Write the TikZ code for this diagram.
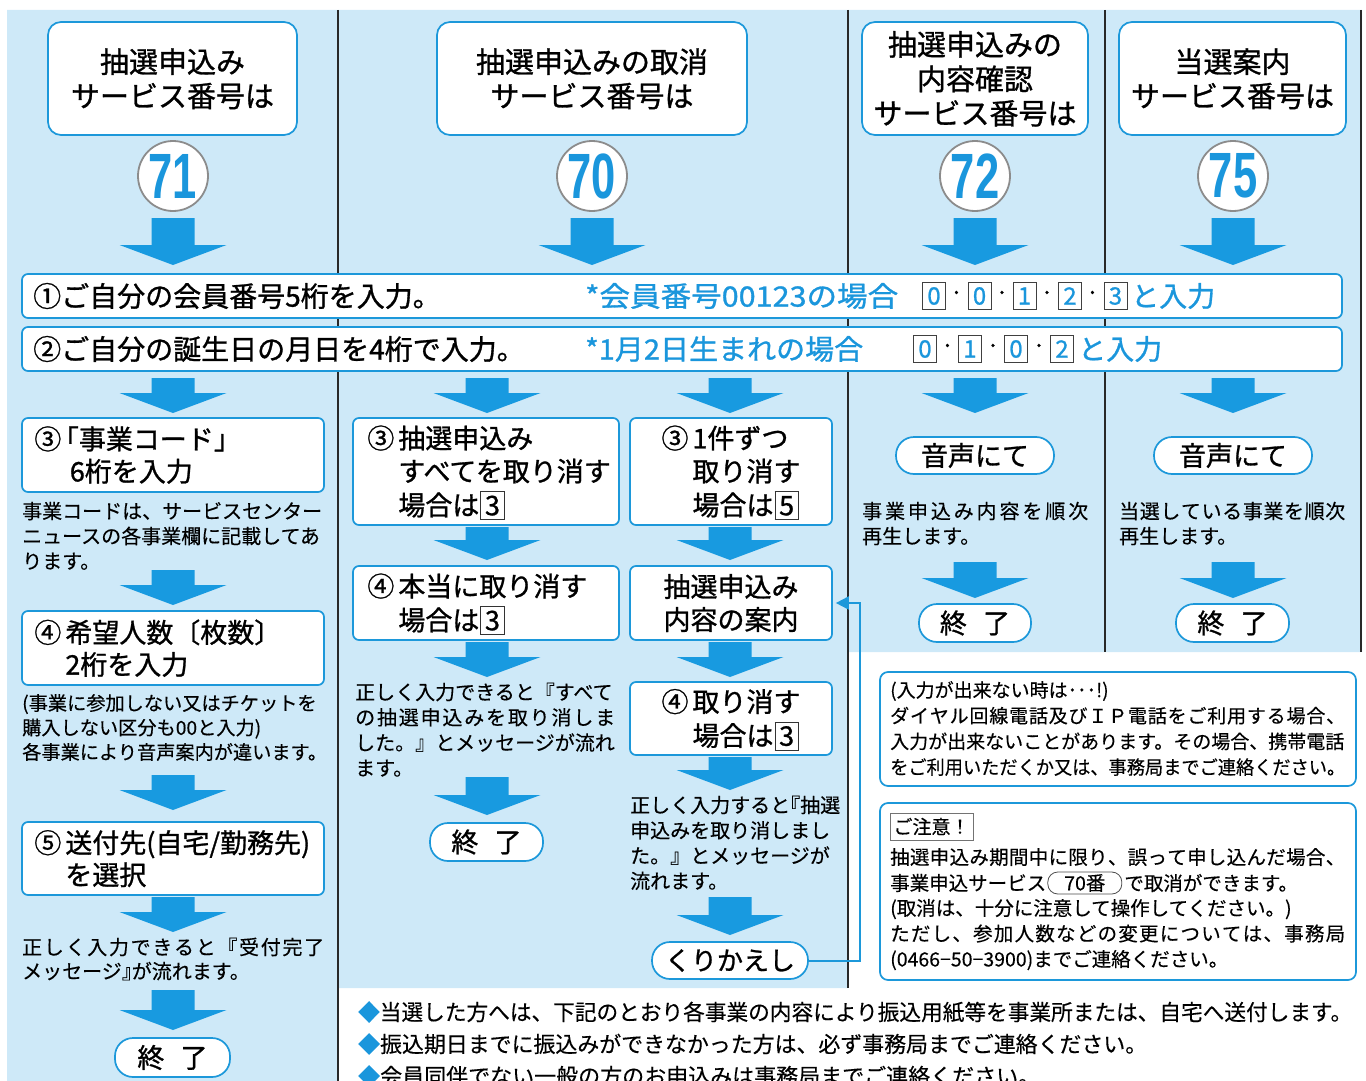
\documentclass[tikz,border=0pt]{standalone}
\usepackage{fontspec}
\usepackage{graphicx}
\setmainfont{Noto Sans CJK JP}[FakeBold=0.3]
\newfontfamily\hvy{Noto Sans CJK JP}[FakeBold=1.0]
\newfontfamily\numfont{Liberation Sans}
\usetikzlibrary{arrows.meta}
\definecolor{bg}{RGB}{206,233,248}
\definecolor{bl}{RGB}{28,152,218}
\definecolor{ar}{RGB}{24,154,224}
\definecolor{tb}{RGB}{26,150,220}
\definecolor{dv}{RGB}{40,40,40}
\newcommand{\fsz}[2]{\fontsize{#1}{#2}\selectfont}
\def\spr#1#2{\makebox[#1][s]{\sprA#2\relax}}
\def\sprA#1{#1\sprB}
\def\sprB#1{\ifx\relax#1\else\hfil#1\expandafter\sprB\fi}
\newcommand{\kb}[1]{\hspace{1pt}{\setlength{\fboxsep}{0.5pt}\setlength{\fboxrule}{1.1pt}\fcolorbox{black!80}{white}{\rule[-0.12em]{0pt}{0.95em}\makebox[0.78em]{#1}}}}
\newcommand{\hb}[1]{\makebox[0.5em][r]{#1}}
\newcommand{\hc}[1]{\makebox[0.5em][l]{#1}}
\newcommand{\myTL}[1]{\begin{tabular}[t]{@{}l@{}}#1\end{tabular}}
\newcommand{\myTC}[1]{\begin{tabular}{@{}c@{}}#1\end{tabular}}
\newcommand{\myTH}[1]{\begin{tabular}{@{}l@{\hspace{4pt}}l@{}}#1\end{tabular}}
\newcommand{\darr}[3]{\fill[ar] ({#1-21.5},#2) -- ({#1+21.5},#2) -- ({#1+21.5},{#3-20}) -- ({#1+53.5},{#3-20}) -- (#1,#3) -- ({#1-53.5},{#3-20}) -- ({#1-21.5},{#3-20}) -- cycle;}
\tikzset{
  bx/.style={draw=bl, line width=1.7pt, fill=white, rounded corners=6pt, inner sep=0pt},
  hbx/.style={bx, rounded corners=13pt},
  pill/.style={draw=bl, line width=1.7pt, fill=white, rounded corners=18pt, inner sep=0pt, font=\hvy\fsz{27}{32}},
  circ/.style={circle, draw=black!45, line width=1.8pt, fill=white, minimum size=70pt, inner sep=0pt},
  tx/.style={inner sep=0pt, text=black},
  tt/.style={inner sep=0pt, text=black, font=\hvy\fsz{27}{33}, yshift=-3.7pt},
  ht/.style={inner sep=0pt, text=black, font=\hvy\fsz{29}{34}, yshift=-4.2pt},
  num/.style={inner sep=0pt, text=tb, font=\numfont\bfseries\fsz{64}{64}},
  dig/.style={draw=black!75, line width=0.9pt, fill=white, minimum width=23pt, minimum height=27pt, inner sep=0pt, text=tb, font=\hvy\fsz{24}{28}},
  dot/.style={inner sep=0pt, font=\fsz{24}{28}},
  rowt/.style={inner sep=0pt, anchor=west, font=\hvy\fsz{28}{32}},
  par/.style={inner sep=0pt, anchor=base west, text=black},
}
\begin{document}
\begin{tikzpicture}[x=1pt,y=-1pt]
\useasboundingbox (0,0) rectangle (1366,1081);
\clip (0,0) rectangle (1366,1081);
% background
\fill[bg] (7,10) -- (1362,10) -- (1362,652) -- (848,652) -- (848,988) -- (338,988) -- (338,1081) -- (7,1081) -- cycle;
\draw[dv, line width=1.8pt] (338,10) -- (338,1081);
\draw[dv, line width=1.8pt] (848,10) -- (848,988);
\draw[dv, line width=1.8pt] (1105,10) -- (1105,652);
\draw[dv, line width=1.8pt] (1361,10) -- (1361,652);
% headers
\node[hbx, minimum width=249pt, minimum height=113pt] (h1) at (172.5,78.5) {};
\node[ht] (h1t) at (h1) {\myTC{抽選申込み\\サービス番号は}};
\node[hbx, minimum width=310pt, minimum height=113pt] (h2) at (592,78.5) {};
\node[ht] (h2t) at (h2) {\myTC{抽選申込みの取消\\サービス番号は}};
\node[hbx, minimum width=226pt, minimum height=113pt] (h3) at (975,78.5) {};
\node[ht] (h3t) at (h3) {\myTC{抽選申込みの\\内容確認\\サービス番号は}};
\node[hbx, minimum width=227pt, minimum height=113pt] (h4) at (1232.5,78.5) {};
\node[ht] (h4t) at (h4) {\myTC{当選案内\\サービス番号は}};
% circles
\node[circ] (c1) at (173,176) {};
\node[num] (c1n) at (c1) {\scalebox{0.68}[1]{71}};
\node[circ] (c2) at (592,176) {};
\node[num] (c2n) at (c2) {\scalebox{0.68}[1]{70}};
\node[circ] (c3) at (975,176) {};
\node[num] (c3n) at (c3) {\scalebox{0.68}[1]{72}};
\node[circ] (c4) at (1233,176) {};
\node[num] (c4n) at (c4) {\scalebox{0.68}[1]{75}};
% arrows row A
\darr{173}{218}{265}\darr{592}{218}{265}\darr{975}{218}{265}\darr{1233}{218}{265}
% row boxes
\node[bx, minimum width=1320pt, minimum height=44pt] (r1) at (682,296) {};
\node[rowt] (r1a) at (33,296) {①ご自分の会員番号5桁を入力。};
\node[rowt, text=tb] (r1b) at (585,296) {\resizebox{313pt}{\height}{*会員番号00123の場合}};
\node[dig] (d11) at (934,296) {0};
\node[dot] (p11) at (956.5,296) {·};
\node[dig] (d12) at (979.5,296) {0};
\node[dot] (p12) at (1002,296) {·};
\node[dig] (d13) at (1024.5,296) {1};
\node[dot] (p13) at (1047,296) {·};
\node[dig] (d14) at (1070,296) {2};
\node[dot] (p14) at (1092.5,296) {·};
\node[dig] (d15) at (1115.5,296) {3};
\node[rowt, text=tb] (r1c) at (1131,296) {と入力};
\node[bx, minimum width=1320pt, minimum height=44pt] (r2) at (682,349) {};
\node[rowt] (r2a) at (33,349) {②ご自分の誕生日の月日を4桁で入力。};
\node[rowt, text=tb] (r2b) at (585,349) {\resizebox{278pt}{\height}{*1月2日生まれの場合}};
\node[dig] (d21) at (925,349) {0};
\node[dot] (p21) at (947.5,349) {·};
\node[dig] (d22) at (970,349) {1};
\node[dot] (p22) at (993,349) {·};
\node[dig] (d23) at (1016,349) {0};
\node[dot] (p23) at (1039,349) {·};
\node[dig] (d24) at (1062,349) {2};
\node[rowt, text=tb] (r2c) at (1078,349) {と入力};
% arrows row B
\darr{173}{378}{413}\darr{487}{378}{413}\darr{730}{378}{413}\darr{975}{378}{413}\darr{1233}{378}{413}
% left column
\node[bx, minimum width=302pt, minimum height=74pt] (l3) at (173,455) {};
\node[tt, anchor=west, font=\hvy\fsz{27}{32}] (l3t) at ([xshift=13pt]l3.west) {\myTH{③&\hb{「}事業コード」\\&\,6桁を入力}};
\node[par, font=\fsz{20}{25}] (ln1) at (22,518.6) {\myTL{事業コードは、サービスセンター\\ニュースの各事業欄に記載してあ\\ります。}};
\darr{173}{570}{605}
\node[bx, minimum width=302pt, minimum height=74pt] (l4) at (173,648) {};
\node[tt, anchor=west, font=\hvy\fsz{27}{31}] (l4t) at ([xshift=13pt]l4.west) {\myTH{④&希望人数〔枚数〕\\&2桁を入力}};
\node[par, font=\fsz{19.2}{24.5}] (ln2) at (22,710.3) {\myTL{(事業に参加しない又はチケットを\\購入しない区分も00と入力)\\各事業により音声案内が違います。}};
\darr{173}{775}{810}
\node[bx, minimum width=302pt, minimum height=73pt] (l5) at (173,858.5) {};
\node[tt, anchor=west, font=\hvy\fsz{27}{31}] (l5t) at ([xshift=13pt]l5.west) {\myTH{⑤&送付先(自宅/勤務先)\\&を選択}};
\darr{173}{897}{932}
\node[par, font=\fsz{20}{24}] (ln3) at (22,954.6) {\myTL{\spr{302pt}{正しく入力できると『受付完了}\\メッセージ\hc{』}が流れます。}};
\darr{173}{990}{1030}
\node[pill, minimum width=115pt, minimum height=39pt] (e1) at (172.5,1057.5) {終\hspace{0.6em}了};
% middle column
\node[bx, minimum width=266pt, minimum height=107pt] (m3a) at (486,471.5) {};
\node[tt, anchor=west] (m3at) at ([xshift=15pt]m3a.west) {\myTH{③&抽選申込み\\&すべてを取り消す\\&場合は\kb{3}}};
\node[bx, minimum width=202pt, minimum height=107pt] (m3b) at (731,471.5) {};
\node[tt] (m3bt) at (m3b) {\myTH{③&1件ずつ\\&取り消す\\&場合は\kb{5}}};
\darr{487}{527}{560}\darr{730}{527}{560}
\node[bx, minimum width=266pt, minimum height=74pt] (m4a) at (486,603) {};
\node[tt, anchor=west] (m4at) at ([xshift=15pt]m4a.west) {\myTH{④&本当に取り消す\\&場合は\kb{3}}};
\node[bx, minimum width=202pt, minimum height=74pt] (ann) at (731,603) {};
\node[tt] (annt) at (ann) {\myTC{抽選申込み\\内容の案内}};
\darr{487}{642}{677}\darr{730}{642}{677}
\node[par, font=\fsz{20}{25.3}] (mn1) at (355,699.6) {\myTL{正しく入力できると『すべて\\\spr{260pt}{の抽選申込みを取り消しま}\\した。』とメッセージが流れ\\ます。}};
\node[bx, minimum width=202pt, minimum height=73pt] (m4b) at (731,718.5) {};
\node[tt] (m4bt) at (m4b) {\myTH{④&取り消す\\&場合は\kb{3}}};
\darr{487}{777}{815}
\node[pill, minimum width=113pt, minimum height=38pt] (e2) at (486.5,842) {終\hspace{0.6em}了};
\darr{730}{757}{790}
\node[par, font=\fsz{20}{25.3}] (mn2) at (630,812.6) {\myTL{正しく入力すると\hb{『}抽選\\申込みを取り消しまし\\た。』とメッセージが\\流れます。}};
\darr{730}{897}{935}
\node[pill, minimum width=156pt, minimum height=37pt, font=\hvy\fsz{26}{30}] (kuri) at (730,960.5) {くりかえし};
% right columns
\node[pill, minimum width=158pt, minimum height=37pt] (v1) at (975,455.5) {音声にて};
\node[pill, minimum width=158pt, minimum height=37pt] (v2) at (1233,455.5) {音声にて};
\node[par, font=\fsz{20}{25}] (rn1) at (862,518.6) {\myTL{\spr{226pt}{事業申込み内容を順次}\\再生します。}};
\node[par, font=\fsz{20}{25}] (rn2) at (1119,518.6) {\myTL{\spr{226pt}{当選している事業を順次}\\再生します。}};
\darr{975}{562}{598}\darr{1233}{562}{598}
\node[pill, minimum width=112pt, minimum height=38pt] (e3) at (975,623) {終\hspace{0.6em}了};
\node[pill, minimum width=113pt, minimum height=38pt] (e4) at (1232.5,623) {終\hspace{0.6em}了};
% loop connector
\coordinate (lp) at (860,0);
\draw[bl, line width=2pt, -{Triangle[length=13pt,width=13pt]}, shorten >=3pt] (kuri.east) -- (kuri.east -| lp) -- (ann.east -| lp) -- (ann.east);
% notes
\node[bx, rounded corners=8pt, minimum width=476pt, minimum height=114pt] (n1) at (1118,729) {};
\node[par, font=\fsz{19}{25.7}] (n1t) at (890,697.2) {\myTL{(入力が出来ない時は･･･!)\\\spr{455pt}{ダイヤル回線電話及びＩＰ電話をご利用する場合、}\\入力が出来ないことがあります。その場合、携帯電話\\\resizebox{455pt}{\height}{をご利用いただくか又は、事務局までご連絡ください。}}};
\node[bx, rounded corners=8pt, minimum width=476pt, minimum height=177pt] (n2) at (1118,891.5) {};
\node[draw=black!55, line width=1pt, fill=white, inner sep=0pt, minimum width=83pt, minimum height=27pt, font=\fsz{19}{23}] (ch) at (931.5,826.5) {ご注意！};
\node[par, font=\fsz{19.5}{25.5}] (n2a) at (890,864.4) {\spr{455pt}{抽選申込み期間中に限り、誤って申し込んだ場合、}};
\node[tx, anchor=west, font=\fsz{19.5}{23}] (n2b) at (890,883) {事業申込サービス};
\node[draw=black!70, line width=0.8pt, rounded corners=10pt, inner sep=0pt, minimum width=74pt, minimum height=22pt, anchor=west, font=\fsz{19.5}{23}] (n2p) at ([xshift=1pt]n2b.east) {70番};
\node[tx, anchor=west, font=\fsz{19.5}{23}] (n2c) at ([xshift=2pt]n2p.east) {で取消ができます。};
\node[par, font=\fsz{19.5}{25.5}] (n2d) at (890,915.4) {\myTL{(取消は、十分に注意して操作してください。)\\\spr{455pt}{ただし、参加人数などの変更については、事務局}\\(0466−50−3900)までご連絡ください。}};
% bottom bullets
\node[tx, anchor=west, font=\fsz{22}{26}] (b1) at (358,1012) {\resizebox{994pt}{\height}{{\color{tb}◆}当選した方へは、下記のとおり各事業の内容により振込用紙等を事業所または、自宅へ送付します。}};
\node[tx, anchor=west, font=\fsz{22}{26}] (b2) at (358,1044) {\resizebox{789pt}{\height}{{\color{tb}◆}振込期日までに振込みができなかった方は、必ず事務局までご連絡ください。}};
\node[tx, anchor=west, font=\fsz{22}{26}] (b3) at (358,1076) {{\color{tb}◆}会員同伴でない一般の方のお申込みは事務局までご連絡ください。};
\end{tikzpicture}
\end{document}
